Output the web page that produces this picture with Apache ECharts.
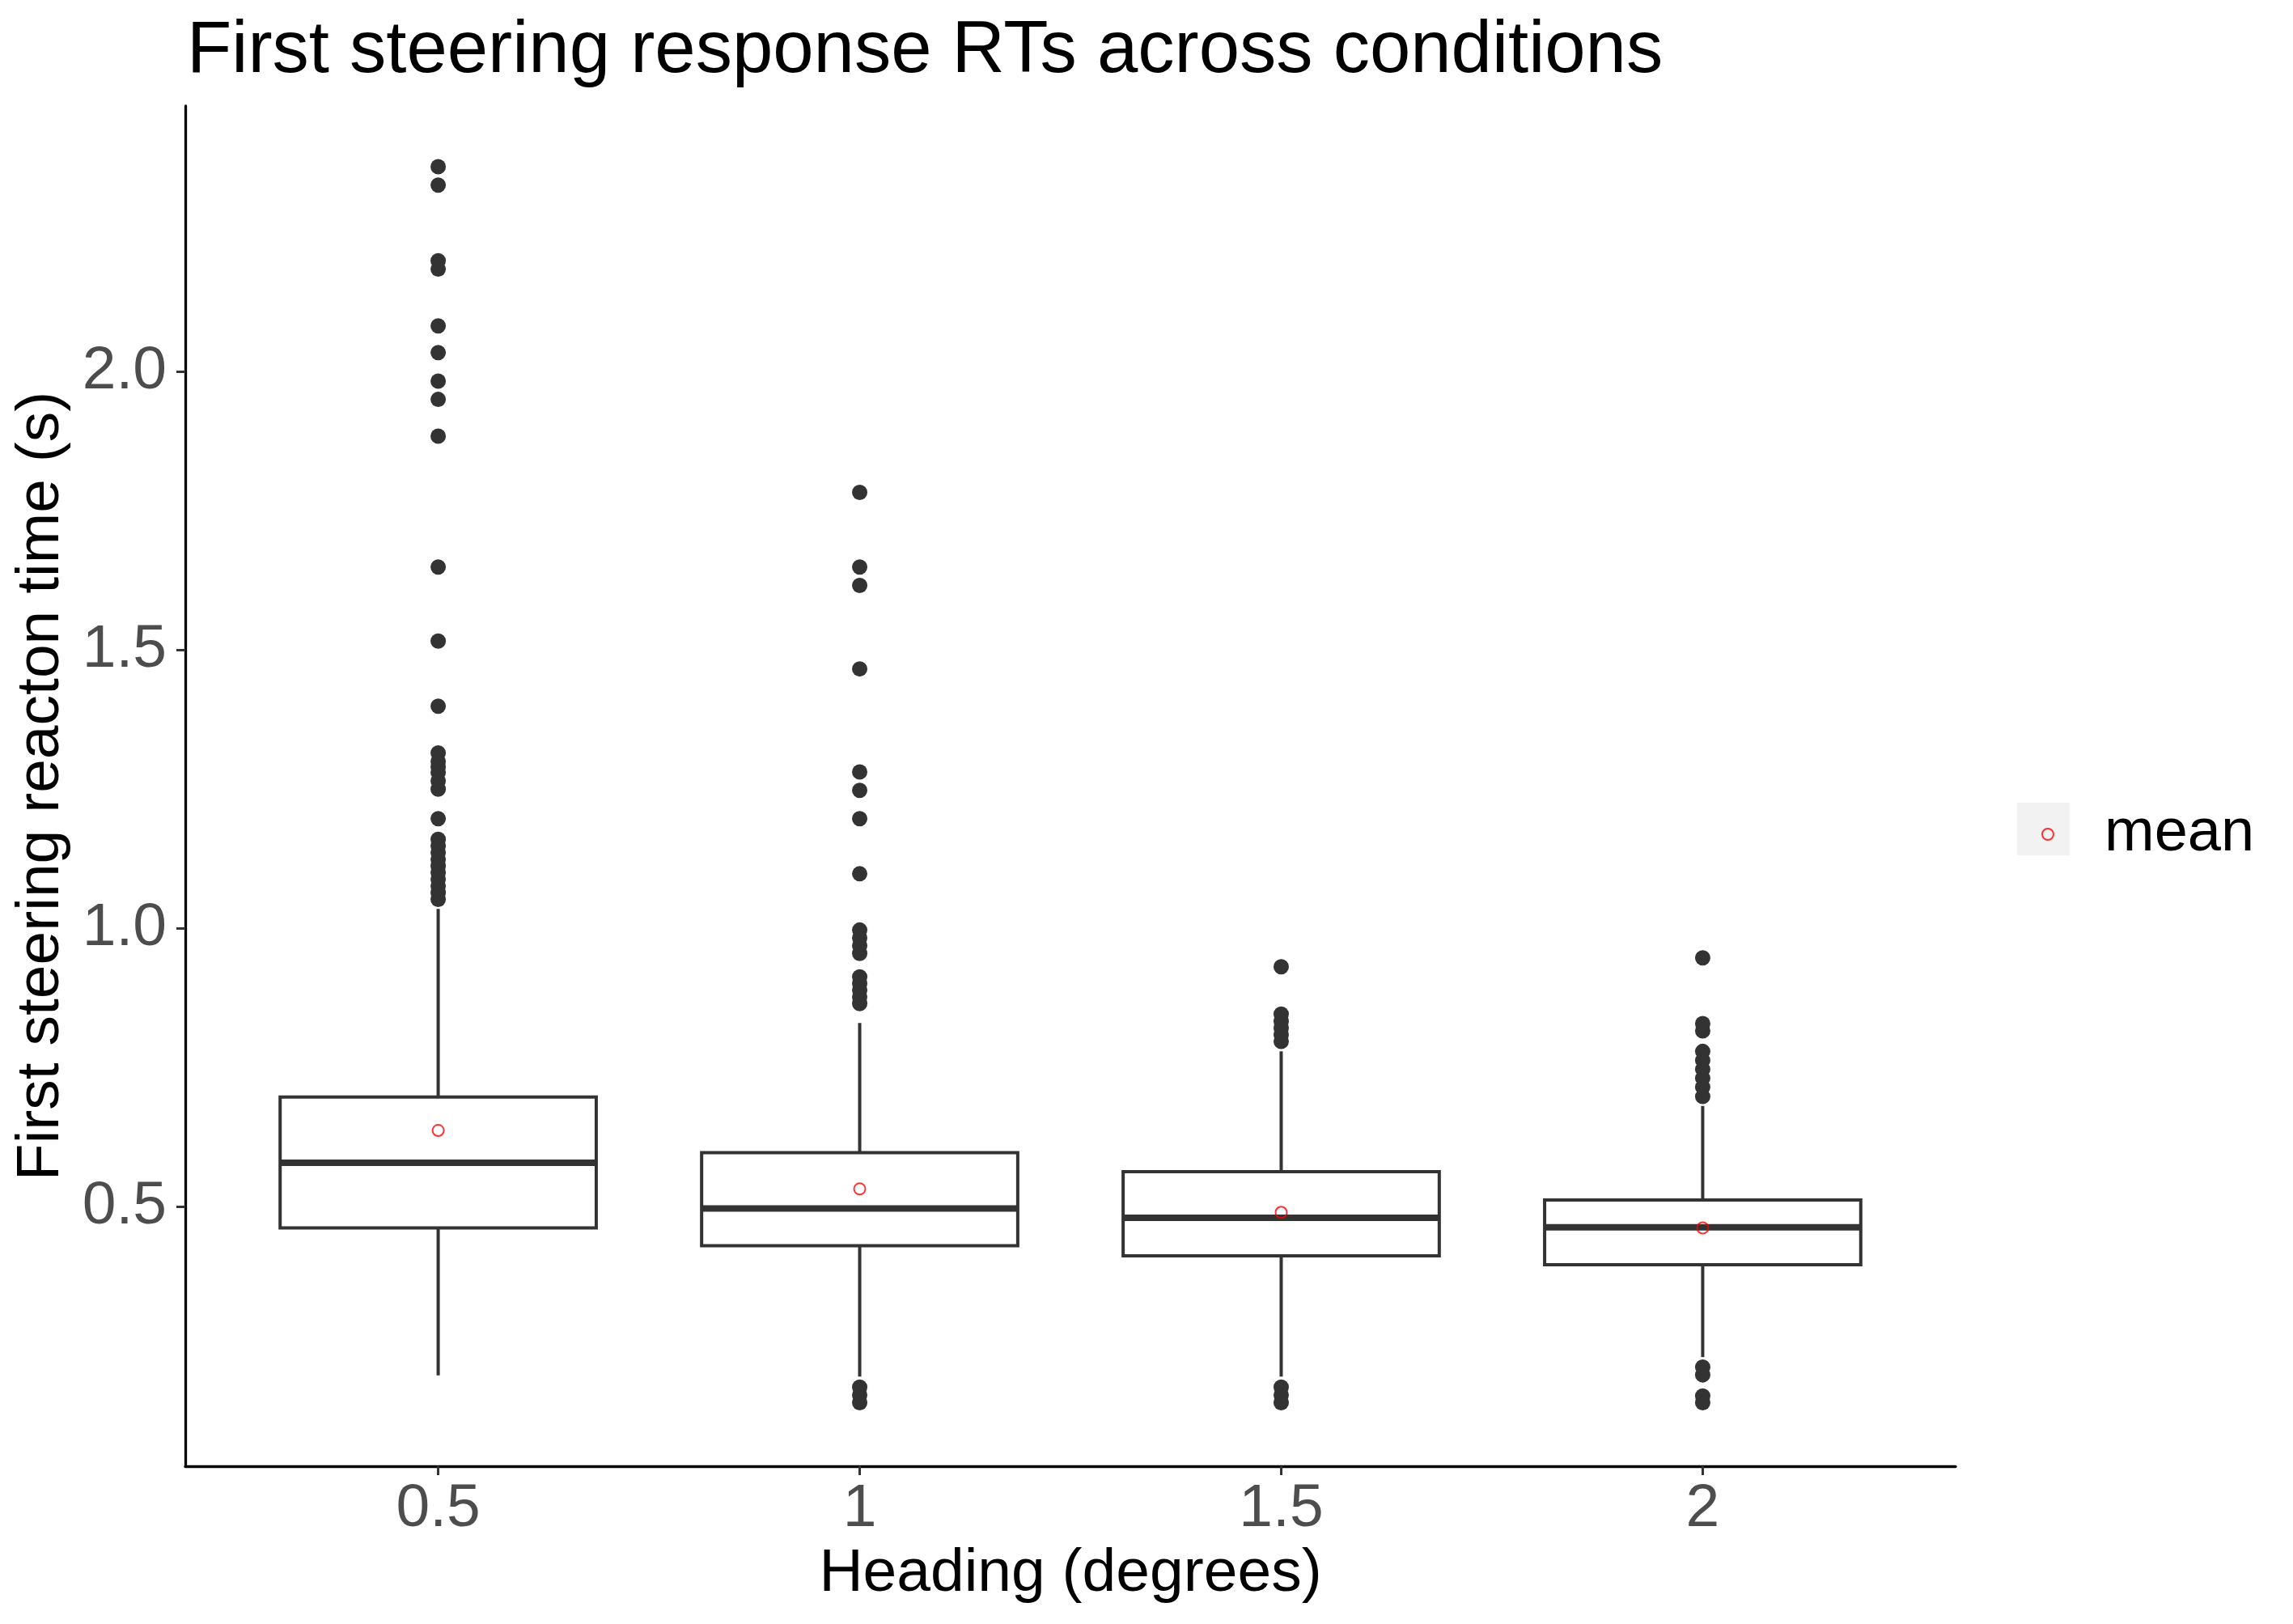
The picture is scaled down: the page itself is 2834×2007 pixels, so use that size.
<!DOCTYPE html>
<html>
<head>
<meta charset="utf-8">
<script src="https://cdn.jsdelivr.net/npm/echarts@6/dist/echarts.min.js"></script>
<style>
html,body{margin:0;padding:0;background:#fff;}
#chart{width:2834px;height:2007px;}
</style>
</head>
<body>
<div id="chart"></div>
<script>
// ---- data ----
const categories = ['0.5', '1', '1.5', '2'];
const lowerWhisker = [0.197, 0.195, 0.195, 0.230];
const q1 = [0.462, 0.430, 0.412, 0.396];
const median = [0.579, 0.497, 0.480, 0.463];
const q3 = [0.697, 0.597, 0.563, 0.512];
const upperWhisker = [1.035, 0.830, 0.779, 0.681];
const means = [0.637, 0.532, 0.490, 0.462];

const outliers05 = [2.368, 2.335, 2.199, 2.184, 2.082, 2.034, 1.983, 1.950, 1.884, 1.649, 1.516, 1.399,
  1.315, 1.300, 1.290, 1.280, 1.265, 1.250, 1.197,
  1.160, 1.148, 1.136, 1.124, 1.112, 1.100, 1.088, 1.076, 1.064, 1.052];
const outliers10 = [1.783, 1.649, 1.616, 1.466, 1.281, 1.248, 1.197, 1.098,
  0.997, 0.983, 0.969, 0.955, 0.913, 0.901, 0.889, 0.877, 0.865,
  0.176, 0.162, 0.148];
const outliers15 = [0.931, 0.846, 0.833, 0.821, 0.809, 0.797, 0.176, 0.162, 0.148];
const outliers20 = [0.947, 0.829, 0.816, 0.779, 0.763, 0.747, 0.731, 0.715, 0.698,
  0.212, 0.198, 0.160, 0.148];

const yTicks = [0.5, 1.0, 1.5, 2.0];
const xTicks = [1, 2, 3, 4];

// ---- build series data ----
const boxData = categories.map((c, i) => [i + 1, lowerWhisker[i], q1[i], median[i], q3[i], upperWhisker[i]]);
const outlierGroups = [outliers05, outliers10, outliers15, outliers20];
const outlierData = [];
outlierGroups.forEach((g, i) => g.forEach(v => outlierData.push([i + 1, v])));
const meanData = means.map((m, i) => [i + 1, m]);

const FONT = "'Liberation Sans', Arial, sans-serif";
const BOX_COLOR = '#333333';
const BOX_WIDTH = 0.75;

function renderBox(params, api) {
  const x = api.value(0);
  const lo = api.coord([x, api.value(1)]);
  const a = api.coord([x, api.value(2)]);
  const m = api.coord([x, api.value(3)]);
  const b = api.coord([x, api.value(4)]);
  const hi = api.coord([x, api.value(5)]);
  const half = api.size([BOX_WIDTH, 0])[0] / 2;
  const lw = 4;
  return {
    type: 'group',
    children: [
      { type: 'line', shape: { x1: lo[0], y1: lo[1], x2: a[0], y2: a[1] }, style: { stroke: BOX_COLOR, lineWidth: lw } },
      { type: 'line', shape: { x1: b[0], y1: b[1], x2: hi[0], y2: hi[1] }, style: { stroke: BOX_COLOR, lineWidth: lw } },
      { type: 'rect', shape: { x: b[0] - half, y: b[1], width: 2 * half, height: a[1] - b[1] },
        style: { fill: '#ffffff', stroke: BOX_COLOR, lineWidth: lw } },
      { type: 'line', shape: { x1: m[0] - half, y1: m[1], x2: m[0] + half, y2: m[1] },
        style: { stroke: BOX_COLOR, lineWidth: 8 } }
    ]
  };
}

const chart = echarts.init(document.getElementById('chart'), null, { renderer: 'canvas' });

const option = {
  backgroundColor: '#ffffff',
  animation: false,
  textStyle: { fontFamily: FONT },
  title: {
    text: 'First steering response RTs across conditions',
    left: 226,
    top: 14,
    textStyle: { fontFamily: FONT, fontSize: 90.5, fontWeight: 'normal', color: '#000000' }
  },
  graphic: [
    { type: 'rect', left: 2493, top: 992, shape: { width: 65, height: 65 }, style: { fill: '#F2F2F2' }, z: -1 }
  ],
  legend: {
    data: ['mean'],
    left: 2518,
    top: 989,
    itemWidth: 14,
    itemHeight: 14,
    icon: 'circle',
    itemStyle: { color: 'rgba(0,0,0,0)', borderColor: '#FF0000', borderWidth: 2 },
    textStyle: { fontFamily: FONT, fontSize: 74, color: '#000000', padding: [0, 0, 0, 58] }
  },
  grid: { left: 229, right: 417, top: 131, bottom: 195 },
  xAxis: {
    type: 'value',
    min: 0.4,
    max: 4.6,
    name: 'Heading (degrees)',
    nameLocation: 'middle',
    nameGap: 92,
    nameTextStyle: { fontFamily: FONT, fontSize: 75, color: '#000000' },
    splitLine: { show: false },
    axisLine: { show: true, onZero: false, lineStyle: { color: '#000000', width: 3.3 } },
    axisTick: { show: true, customValues: xTicks, length: 11, lineStyle: { color: '#333333', width: 3 } },
    axisLabel: {
      customValues: xTicks,
      formatter: v => categories[Math.round(v) - 1],
      fontFamily: FONT, fontSize: 75, color: '#4D4D4D', margin: 16
    }
  },
  yAxis: {
    type: 'value',
    min: 0.034,
    max: 2.477,
    name: 'First steering reacton time (s)',
    nameLocation: 'middle',
    nameGap: 140,
    nameRotate: 90,
    nameTextStyle: { fontFamily: FONT, fontSize: 75, color: '#000000' },
    splitLine: { show: false },
    axisLine: { show: true, onZero: false, lineStyle: { color: '#000000', width: 3.3 } },
    axisTick: { show: true, customValues: yTicks, length: 11, lineStyle: { color: '#333333', width: 3 } },
    axisLabel: {
      customValues: yTicks,
      formatter: v => v.toFixed(1),
      fontFamily: FONT, fontSize: 75, color: '#4D4D4D', margin: 23
    }
  },
  series: [
    {
      name: 'box',
      type: 'custom',
      renderItem: renderBox,
      encode: { x: 0, y: [1, 2, 3, 4, 5] },
      data: boxData,
      z: 2
    },
    {
      name: 'outliers',
      type: 'scatter',
      data: outlierData,
      symbol: 'circle',
      symbolSize: 19,
      itemStyle: { color: BOX_COLOR, opacity: 1 },
      z: 3
    },
    {
      name: 'mean',
      type: 'scatter',
      data: meanData,
      symbol: 'circle',
      symbolSize: 14,
      itemStyle: { color: 'rgba(0,0,0,0)', borderColor: '#FF0000', borderWidth: 2 },
      z: 4
    }
  ]
};

chart.setOption(option);
</script>
</body>
</html>
